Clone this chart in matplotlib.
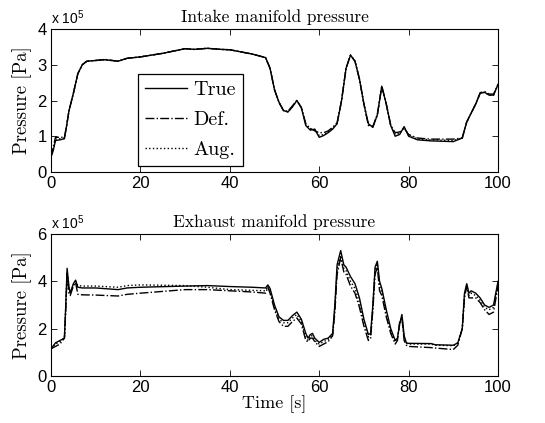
import matplotlib
matplotlib.use('Agg')
import matplotlib.pyplot as plt

# intake manifold pressure, units of 1e5 Pa
t_in = [0, 0.5, 1, 2, 3, 3.5, 4, 5, 6, 7, 8, 10, 12, 15, 17, 20, 25, 30, 32, 35,
        38, 40, 45, 48, 49, 50, 51, 52, 53, 54, 55, 56, 57, 58, 59, 60, 61, 62, 63, 64,
        65, 66, 67, 68, 69, 70, 71, 72, 73, 74, 75, 76, 77, 78, 79, 80, 82, 85, 90, 92,
        93, 95, 96, 97, 98, 99, 100]
true_in = [0.42, 0.6, 0.88, 0.9, 0.93, 1.3, 1.7, 2.2, 2.75, 3.0, 3.1, 3.12, 3.14, 3.1, 3.18, 3.22, 3.32, 3.45, 3.43, 3.46,
           3.43, 3.42, 3.3, 3.2, 2.9, 2.3, 1.95, 1.72, 1.68, 1.82, 2.0, 1.8, 1.3, 1.17, 1.2, 0.97, 1.02, 1.1, 1.2, 1.35,
           2.0, 2.9, 3.27, 3.1, 2.6, 1.9, 1.35, 1.25, 1.6, 2.4, 1.9, 1.3, 1.0, 1.05, 1.27, 1.0, 0.9, 0.87, 0.85, 0.95,
           1.4, 1.9, 2.2, 2.23, 2.15, 2.15, 2.45]
def_in = [0.42, 0.7, 0.97, 0.97, 0.97, 1.3, 1.7, 2.2, 2.75, 3.0, 3.1, 3.12, 3.15, 3.1, 3.18, 3.22, 3.32, 3.45, 3.43, 3.46,
          3.43, 3.42, 3.3, 3.2, 2.9, 2.3, 1.95, 1.72, 1.7, 1.85, 2.0, 1.8, 1.35, 1.22, 1.15, 1.1, 1.1, 1.15, 1.25, 1.38,
          2.0, 2.9, 3.27, 3.1, 2.6, 1.9, 1.3, 1.28, 1.6, 2.4, 1.9, 1.3, 1.1, 1.12, 1.22, 1.05, 0.95, 0.92, 0.92, 0.95,
          1.4, 1.9, 2.22, 2.25, 2.18, 2.18, 2.45]
aug_in = [0.42, 0.65, 0.92, 0.93, 0.95, 1.3, 1.7, 2.2, 2.75, 3.0, 3.1, 3.12, 3.14, 3.1, 3.18, 3.22, 3.32, 3.45, 3.43, 3.46,
          3.43, 3.42, 3.3, 3.2, 2.9, 2.3, 1.95, 1.72, 1.68, 1.82, 2.0, 1.8, 1.32, 1.2, 1.18, 1.02, 1.05, 1.12, 1.22, 1.36,
          2.0, 2.9, 3.27, 3.1, 2.6, 1.9, 1.33, 1.26, 1.6, 2.4, 1.9, 1.3, 1.05, 1.08, 1.25, 1.02, 0.92, 0.9, 0.88, 0.95,
          1.4, 1.9, 2.2, 2.23, 2.15, 2.15, 2.45]

# exhaust manifold pressure, units of 1e5 Pa
t_ex = [0, 1, 2, 3, 3.3, 3.6, 4, 4.3, 5, 5.5, 6, 7, 10, 15, 17, 20, 30, 35, 40, 45,
        48, 48.5, 49, 50, 51, 52, 53, 54, 55, 56, 57, 57.5, 58, 58.5, 59, 60, 61, 62, 63, 63.5,
        64, 64.8, 65.5, 66, 67, 68, 69, 70, 71, 71.5, 72, 72.5, 73, 73.5, 74, 75, 76, 77, 77.5, 78,
        78.5, 79, 79.5, 80, 85, 86, 90, 91, 92, 92.5, 93, 93.5, 94, 95, 96, 97, 98, 99, 100]
true_ex = [1.15, 1.4, 1.5, 1.6, 3.0, 4.55, 3.8, 3.5, 3.9, 4.05, 3.75, 3.72, 3.72, 3.65, 3.72, 3.75, 3.8, 3.82, 3.78, 3.75,
           3.72, 3.85, 3.7, 3.0, 2.5, 2.35, 2.35, 2.55, 2.7, 2.4, 1.8, 1.6, 1.75, 1.8, 1.6, 1.42, 1.55, 1.6, 1.8, 3.0,
           4.7, 5.3, 4.7, 4.6, 4.2, 3.9, 3.3, 2.4, 1.75, 1.8, 3.0, 4.6, 4.85, 4.0, 3.7, 2.8, 2.0, 1.5, 1.6, 2.2,
           2.6, 1.7, 1.4, 1.38, 1.37, 1.32, 1.3, 1.4, 2.0, 3.5, 3.9, 3.5, 3.6, 3.5, 3.3, 3.0, 2.9, 3.0, 4.0]
def_ex = [1.15, 1.25, 1.35, 1.6, 2.8, 4.3, 3.5, 3.4, 3.8, 3.95, 3.45, 3.43, 3.42, 3.38, 3.45, 3.5, 3.65, 3.65, 3.6, 3.55,
          3.5, 3.75, 3.5, 2.8, 2.3, 2.1, 2.1, 2.3, 2.45, 2.2, 1.5, 1.45, 1.6, 1.6, 1.45, 1.25, 1.35, 1.45, 1.7, 2.7,
          4.3, 5.0, 4.4, 4.3, 3.8, 3.5, 2.9, 2.1, 1.5, 1.6, 2.8, 4.3, 4.6, 3.6, 3.4, 2.5, 1.8, 1.35, 1.5, 2.3,
          2.45, 1.5, 1.3, 1.25, 1.2, 1.18, 1.12, 1.3, 2.0, 3.3, 3.8, 3.3, 3.3, 3.3, 3.1, 2.8, 2.6, 2.7, 3.8]
aug_ex = [1.15, 1.35, 1.45, 1.6, 2.9, 4.4, 3.7, 3.5, 3.85, 4.0, 3.82, 3.8, 3.8, 3.75, 3.82, 3.85, 3.82, 3.75, 3.65, 3.62,
          3.6, 3.8, 3.6, 2.9, 2.4, 2.25, 2.25, 2.45, 2.6, 2.3, 1.65, 1.5, 1.7, 1.7, 1.5, 1.35, 1.45, 1.55, 1.75, 2.9,
          4.5, 5.1, 4.55, 4.45, 4.0, 3.7, 3.1, 2.25, 1.65, 1.7, 2.9, 4.5, 4.75, 3.8, 3.55, 2.65, 1.9, 1.45, 1.55, 2.2,
          2.5, 1.6, 1.38, 1.35, 1.35, 1.3, 1.28, 1.4, 2.0, 3.4, 3.85, 3.4, 3.5, 3.4, 3.2, 2.9, 2.8, 2.9, 3.9]

serif = 'cmr10'
sans = 'Liberation Sans'
plt.rcParams['font.family'] = sans
plt.rcParams['mathtext.default'] = 'regular'

fig = plt.figure(figsize=(5.45, 4.23), dpi=100)
ax1 = fig.add_axes([0.0936, 0.5934, 0.8202, 0.338])
ax2 = fig.add_axes([0.0936, 0.1111, 0.8202, 0.3357])

for ax, t, tr, de, au, top, title in [
        (ax1, t_in, true_in, def_in, aug_in, 4, 'Intake manifold pressure'),
        (ax2, t_ex, true_ex, def_ex, aug_ex, 6, 'Exhaust manifold pressure')]:
    ax.plot(t, tr, color='black', lw=1.0, ls='-', label='True')
    ax.plot(t, de, color='black', lw=1.0, ls='-.', label='Def.')
    ax.plot(t, au, color='black', lw=1.0, ls=':', label='Aug.')
    ax.set_xlim(0, 100)
    ax.set_ylim(0, top)
    ax.set_xticks([0, 20, 40, 60, 80, 100])
    ax.set_yticks(range(0, top + 1, 1 if top == 4 else 2))
    ax.tick_params(direction='in', top=True, right=True, length=4, width=0.6,
                   labelsize=12, pad=3)
    for s in ax.spines.values():
        s.set_linewidth(0.8)
    ax.set_title(title, fontfamily=serif, fontsize=12.5, pad=5)
    ax.set_ylabel('Pressure [Pa]', fontfamily=serif, fontsize=13.5, labelpad=4)
    ax.text(0, 1.015, 'x 10$^5$', transform=ax.transAxes, fontsize=10, ha='left', va='bottom')

ax2.set_xlabel('Time [s]', fontfamily=serif, fontsize=13, labelpad=0)

leg = ax1.legend(loc='lower left', bbox_to_anchor=(0.195, 0.04), fancybox=False,
                 edgecolor='black', framealpha=1, handlelength=2.05, handletextpad=0.35,
                 labelspacing=0.6, borderpad=0.35, borderaxespad=0,
                 prop={'family': serif, 'size': 14.5})
leg.get_frame().set_linewidth(0.9)

fig.savefig('out.png', dpi=100)
